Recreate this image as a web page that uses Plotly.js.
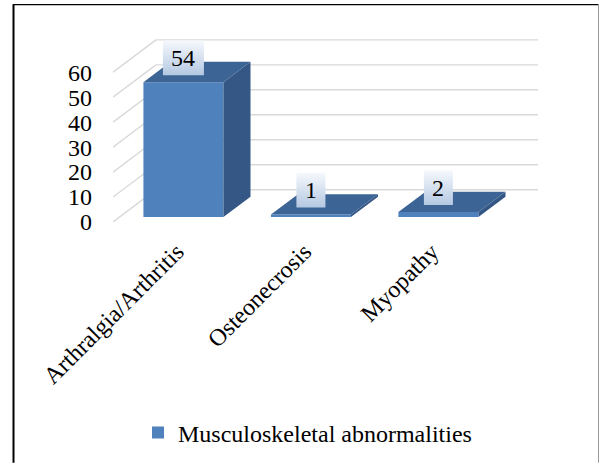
<!DOCTYPE html>
<html>
<head>
<meta charset="utf-8">
<script src="https://cdn.plot.ly/plotly-3.0.1.min.js"></script>
<style>
  html, body { margin: 0; padding: 0; background: #ffffff; }
  #chart { width: 600px; height: 465px; }
</style>
</head>
<body>
<div id="chart"></div>
<script>
// Chart data
const categories = ['Arthralgia/Arthritis', 'Osteonecrosis', 'Myopathy'];
const values = [54, 1, 2];
const yTickValues = [0, 10, 20, 30, 40, 50, 60];
const seriesName = 'Musculoskeletal abnormalities';

// Page and plot-area geometry (pixels)
const W = 600, H = 465;
const M = { l: 113, r: 62, t: 38, b: 242 };
const plotW = W - M.l - M.r;
const plotH = H - M.t - M.b;
const catPx = 127.5;               // pixels per category step
const unitPx = 2.51;               // pixels per value unit
const xMin = -0.5;
const xMax = xMin + plotW / catPx;
const yMax = plotH / unitPx;

// Oblique depth of the 3-D box (walls) and of the bars, converted to axis units
const wallDX = 43 / catPx;
const wallDY = 32.5 / unitPx;
const barFront = 0.155;            // depth fraction where bar fronts sit
const barDepth = 0.63;             // depth fraction occupied by bars
const barWidth = 80 / catPx;

const FONT = '"Liberation Serif", "Times New Roman", serif';
const FS = 24;
const gridColor = '#d9d9d9';
const frontColor = '#4f81bd';
const topColor = '#3c6595';
const sideColor = '#345785';

const traces = [];
const shapes = [];

// Back-wall gridlines and side-wall diagonals, kept beneath the bars
yTickValues.forEach(v => {
  shapes.push({
    type: 'line', xref: 'x', yref: 'y', layer: 'below',
    x0: xMin + wallDX, x1: xMax, y0: v + wallDY, y1: v + wallDY,
    line: { color: gridColor, width: 1.4 }
  });
  shapes.push({
    type: 'line', xref: 'x', yref: 'y', layer: 'below',
    x0: xMin, x1: xMin + wallDX, y0: v, y1: v + wallDY,
    line: { color: gridColor, width: 1.4 }
  });
});

// Bar fronts
const frontX = values.map((v, i) => i + barFront * wallDX);
const baseY = barFront * wallDY;
traces.push({
  type: 'bar', name: seriesName,
  x: frontX, y: values, base: values.map(() => baseY), width: barWidth,
  marker: { color: frontColor, line: { width: 0 } },
  hoverinfo: 'skip', showlegend: true
});

// Side and top faces of each bar
const ddx = barDepth * wallDX, ddy = barDepth * wallDY;
values.forEach((v, i) => {
  const xl = frontX[i] - barWidth / 2, xr = frontX[i] + barWidth / 2;
  const y0 = baseY, y1 = baseY + v;
  traces.push({
    type: 'scatter', mode: 'lines', fill: 'toself',
    x: [xr, xr, xr + ddx, xr + ddx, xr],
    y: [y0, y1, y1 + ddy, y0 + ddy, y0],
    fillcolor: sideColor, line: { width: 0, color: sideColor },
    hoverinfo: 'skip', showlegend: false
  });
  traces.push({
    type: 'scatter', mode: 'lines', fill: 'toself',
    x: [xl, xr, xr + ddx, xl + ddx, xl],
    y: [y1, y1, y1 + ddy, y1 + ddy, y1],
    fillcolor: topColor, line: { width: 0, color: topColor },
    hoverinfo: 'skip', showlegend: false
  });
});

// Data-label boxes with a soft vertical gradient
const annotations = [];
values.forEach((v, i) => {
  const txt = String(v);
  const wPx = 17 + 12 * txt.length;
  const hPx = 35;
  const gapPx = 7;
  const cx = frontX[i];
  const yb = baseY + v + gapPx / unitPx;
  const yt = yb + hPx / unitPx;
  const hw = (wPx / 2) / catPx;
  traces.push({
    type: 'scatter', mode: 'lines', fill: 'toself',
    x: [cx - hw, cx + hw, cx + hw, cx - hw, cx - hw],
    y: [yb, yb, yt, yt, yb],
    line: { width: 0, color: 'rgba(0,0,0,0)' },
    fillgradient: { type: 'vertical', colorscale: [[0, '#b4c8e2'], [1, '#f6f9fd']] },
    hoverinfo: 'skip', showlegend: false
  });
  annotations.push({
    x: cx, y: (yb + yt) / 2, xref: 'x', yref: 'y',
    text: txt, showarrow: false,
    font: { family: FONT, size: FS, color: '#000000' }
  });
});

// Outer frame
const px = p => (p - M.l) / plotW;
const py = p => (H - M.b - p) / plotH;
shapes.push(
  { type: 'line', xref: 'paper', yref: 'paper', x0: px(13.5), x1: px(13.5), y0: py(4), y1: py(H), line: { color: '#000000', width: 2 } },
  { type: 'line', xref: 'paper', yref: 'paper', x0: px(13), x1: px(598.5), y0: py(4.5), y1: py(4.5), line: { color: '#000000', width: 1.3 } },
  { type: 'line', xref: 'paper', yref: 'paper', x0: px(598.5), x1: px(598.5), y0: py(4), y1: py(H), line: { color: '#9a9a9a', width: 1 } }
);

const layout = {
  width: W, height: H, autosize: false,
  margin: M,
  paper_bgcolor: '#ffffff', plot_bgcolor: 'rgba(0,0,0,0)',
  font: { family: FONT, size: FS, color: '#000000' },
  showlegend: true,
  hovermode: false,
  xaxis: {
    type: 'linear', range: [xMin, xMax],
    tickvals: [0, 1, 2], ticktext: categories, tickangle: -45,
    showgrid: false, zeroline: false, showline: false, ticks: '',
    ticklabelstandoff: 10,
    tickfont: { family: FONT, size: FS, color: '#000000' }
  },
  yaxis: {
    type: 'linear', range: [0, yMax],
    tickvals: yTickValues, ticktext: yTickValues.map(String),
    showgrid: false, zeroline: false, showline: false, ticks: '',
    ticklabelstandoff: 20,
    tickfont: { family: FONT, size: FS, color: '#000000' }
  },
  legend: {
    orientation: 'h', x: px(138), xanchor: 'left', y: py(433), yanchor: 'middle',
    font: { family: FONT, size: FS, color: '#000000' },
    bgcolor: 'rgba(0,0,0,0)'
  },
  annotations: annotations,
  shapes: shapes
};

Plotly.newPlot('chart', traces, layout, { staticPlot: true, displayModeBar: false });
</script>
</body>
</html>
